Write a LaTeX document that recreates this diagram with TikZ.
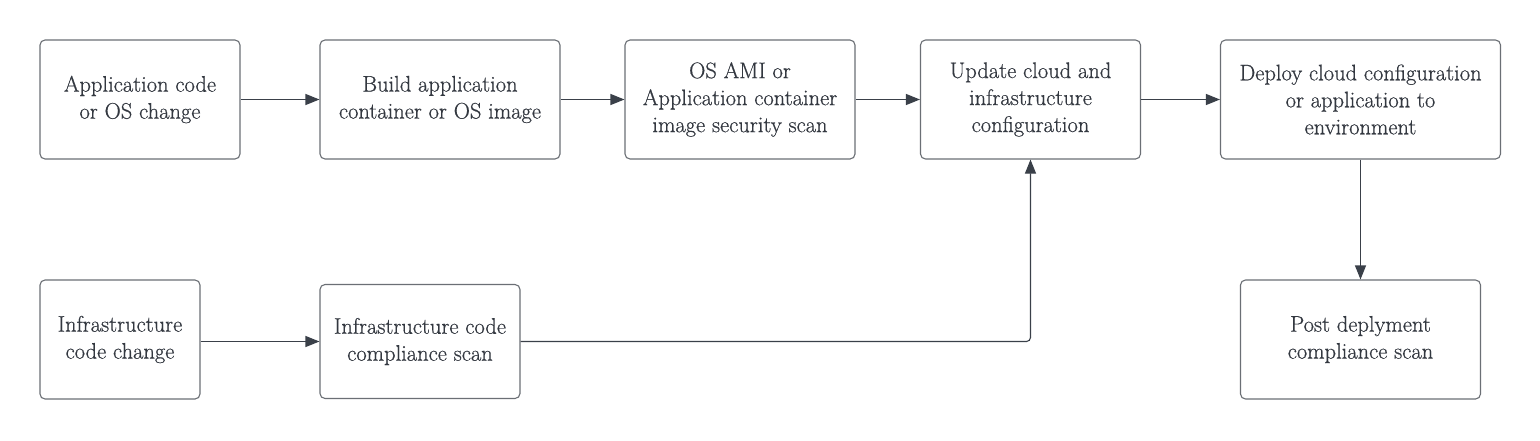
\documentclass[tikz,border=0pt]{standalone}
\usepackage{fontspec}
\newfontfamily\boxfont{Latin Modern Roman}[UprightFeatures={FakeBold=0.6}]
\usetikzlibrary{arrows.meta}
\definecolor{txt}{HTML}{333840}
\definecolor{edge}{HTML}{6B6F75}
\definecolor{conn}{HTML}{3A4049}
\tikzset{
  box/.style={draw=edge, line width=1.1pt, rounded corners=5pt, fill=white, align=center,
    text=txt, font=\boxfont\fontsize{22.5}{27}\selectfont, inner sep=0pt},
  conn/.style={draw=conn, line width=1.1pt, -{Triangle[length=14pt,width=11pt]}, rounded corners=4pt}
}
\begin{document}
\begin{tikzpicture}[x=1pt,y=-1pt]
\useasboundingbox (0,0) rectangle (1540,440);
\fill[white] (0,0) rectangle (1540,440);
\node[box, minimum width=200pt, minimum height=119pt] (a) at (140,99.5) {Application code\\or OS change};
\node[box, minimum width=240pt, minimum height=119pt] (b) at (440,99.5) {Build application\\container or OS image};
\node[box, minimum width=230pt, minimum height=119pt] (c) at (740,99.5) {OS AMI or\\Application container\\image security scan};
\node[box, minimum width=220pt, minimum height=119pt] (d) at (1030.5,99.5) {Update cloud and\\infrastructure\\configuration};
\node[box, minimum width=280pt, minimum height=119pt] (e) at (1360.5,99.5) {Deploy cloud configuration\\or application to\\environment};
\node[box, minimum width=160pt, minimum height=119pt] (f) at (120,339.5) {Infrastructure\\code change};
\node[box, minimum width=200pt, minimum height=114pt] (g) at (420,341.5) {Infrastructure code\\compliance scan};
\node[box, minimum width=240pt, minimum height=119pt] (h) at (1360.5,339.5) {Post deplyment\\compliance scan};
\draw[conn] (a) -- (b);
\draw[conn] (b) -- (c);
\draw[conn] (c) -- (d);
\draw[conn] (d) -- (e);
\draw[conn] (f.east |- g) -- (g);
\draw[conn] (g.east) -| (d.south);
\draw[conn] (e) -- (h);
\end{tikzpicture}
\end{document}
